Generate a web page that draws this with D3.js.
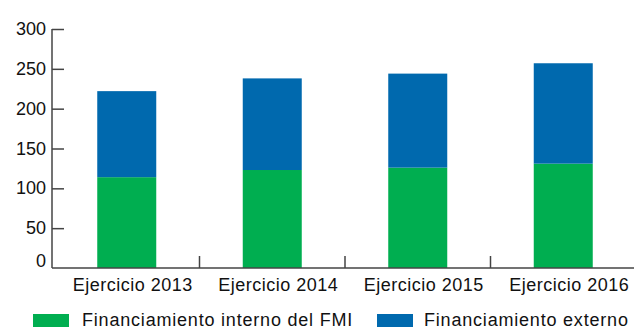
<!DOCTYPE html>
<html>
<head>
<meta charset="utf-8">
<script src="https://cdn.jsdelivr.net/npm/d3@7"></script>
<style>
  html, body { margin: 0; padding: 0; background: #fff; }
  svg { display: block; font-family: "Liberation Sans", Arial, sans-serif; }
</style>
</head>
<body>
<svg id="chart" width="634" height="329"></svg>
<script>
// Fiscal years and the two funding components (stacked)
const categories = ["Ejercicio 2013", "Ejercicio 2014", "Ejercicio 2015", "Ejercicio 2016"];
const internalFunding = [114, 123, 126, 131];
const externalFunding = [108, 115, 118, 126];
const seriesNames = ["Financiamiento interno del FMI", "Financiamiento externo"];
const yTicks = [0, 50, 100, 150, 200, 250, 300];

const colors = ["#00ae50", "#0069ae"];
const svg = d3.select("#chart");

const x = d3.scaleBand().domain(categories).range([54, 636]).paddingInner(0).paddingOuter(0);
const y = d3.scaleLinear().domain([0, 300]).range([268, 29]);

const rows = categories.map((c, i) => ({ cat: c, interno: internalFunding[i], externo: externalFunding[i] }));
const stacked = d3.stack().keys(["interno", "externo"])(rows);

const barW = 59;
svg.append("g").selectAll("g")
  .data(stacked)
  .join("g")
  .attr("fill", (d, i) => colors[i])
  .selectAll("rect")
  .data(d => d)
  .join("rect")
  .attr("x", d => x(d.data.cat) + x.bandwidth() / 2 - barW / 2)
  .attr("width", barW)
  .attr("y", d => y(d[1]))
  .attr("height", d => y(d[0]) - y(d[1]));

const axisColor = "#444";
const textColor = "#111";

// Y axis: ticks point into the plot
const yAxis = svg.append("g")
  .attr("transform", "translate(52,0)")
  .call(d3.axisRight(y).tickValues(yTicks).tickSize(12).tickFormat(""));
yAxis.select(".domain").remove();
yAxis.selectAll(".tick line").attr("stroke", axisColor).attr("stroke-width", 1.5);
yAxis.selectAll(".tick").filter(d => d === 0).select("line").remove();

svg.append("line")
  .attr("x1", 52).attr("x2", 52)
  .attr("y1", y(300)).attr("y2", y(0))
  .attr("stroke", axisColor).attr("stroke-width", 1.5);

svg.append("g").selectAll("text")
  .data(yTicks)
  .join("text")
  .attr("x", 46)
  .attr("y", d => y(d) + (d === 0 ? -7 : 0))
  .attr("text-anchor", "end")
  .attr("dominant-baseline", "central")
  .attr("font-size", 18)
  .attr("fill", textColor)
  .text(d => d);

// X axis: baseline with upward ticks between categories
svg.append("line")
  .attr("x1", 52).attr("x2", 634)
  .attr("y1", y(0)).attr("y2", y(0))
  .attr("stroke", axisColor).attr("stroke-width", 1.5);

svg.append("g").selectAll("line")
  .data(categories.slice(1))
  .join("line")
  .attr("x1", d => x(d)).attr("x2", d => x(d))
  .attr("y1", y(0)).attr("y2", y(0) - 12)
  .attr("stroke", axisColor).attr("stroke-width", 1.5);

svg.append("g").selectAll("text")
  .data(categories)
  .join("text")
  .attr("x", d => x(d) + x.bandwidth() / 2 + 6)
  .attr("y", 291)
  .attr("text-anchor", "middle")
  .attr("font-size", 18)
  .attr("letter-spacing", 0.5)
  .attr("fill", textColor)
  .text(d => d);

// Legend
const legendX = [33, 377];
const legend = svg.append("g").selectAll("g")
  .data(seriesNames)
  .join("g")
  .attr("transform", (d, i) => `translate(${legendX[i]},314)`);
legend.append("rect")
  .attr("width", 36).attr("height", 13)
  .attr("fill", (d, i) => colors[i]);
legend.append("text")
  .attr("x", (d, i) => i === 0 ? 49 : 47).attr("y", 12)
  .attr("font-size", 18)
  .attr("letter-spacing", 0.8)
  .attr("fill", textColor)
  .text(d => d);
</script>
</body>
</html>
